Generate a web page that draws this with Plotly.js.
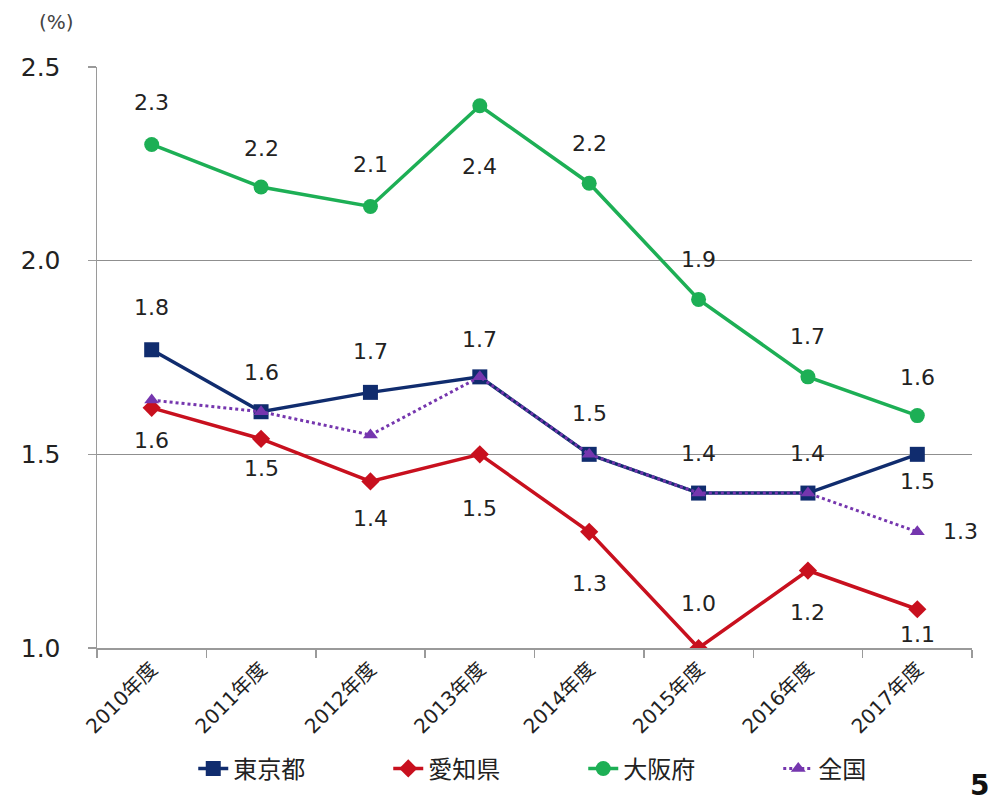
<!DOCTYPE html>
<html>
<head>
<meta charset="utf-8">
<script src="https://cdn.plot.ly/plotly-3.0.1.min.js"></script>
<style>html,body{margin:0;padding:0;background:#fff;}#chart{width:996px;height:807px;}</style>
</head>
<body>
<div id="chart"></div>
<script>
// ---- data ----
const categories = ["2010年度","2011年度","2012年度","2013年度","2014年度","2015年度","2016年度","2017年度"];
const tokyo    = [1.77, 1.61, 1.66, 1.70, 1.50, 1.40, 1.40, 1.50];
const aichi    = [1.62, 1.54, 1.43, 1.50, 1.30, 1.00, 1.20, 1.10];
const osaka    = [2.30, 2.19, 2.14, 2.40, 2.20, 1.90, 1.70, 1.60];
const national = [1.64, 1.61, 1.55, 1.70, 1.50, 1.40, 1.40, 1.30];
const seriesNames = ["東京都","愛知県","大阪府","全国"];
const yTicks = [1.0, 1.5, 2.0, 2.5];

// ---- label placement (style only: pixel shifts; null = no label) ----
const tokyoShift    = [[0,42],[0,39],[0,41],[0,37],[0,41],[0,40],[0,40],[0,-27]];
const aichiShift    = [[0,-33],[0,-30],[0,-37],[0,-54],[0,-52],[0,45],[0,-42],[0,-25]];
const osakaShift    = [[0,42],[0,39],[0,42],[0,-61],[0,40],[0,40],[0,40],[0,38]];
const nationalShift = [null,null,null,null,null,null,null,[43,0]];

const FONT = "DejaVu Sans, Noto Sans CJK JP, sans-serif";
const CJK = "Noto Sans CJK JP, DejaVu Sans, sans-serif";
const C = {tokyo:"#102C6E", aichi:"#C8101E", osaka:"#1DAF55", national:"#7536AE"};

const traces = [
  {x:categories, y:tokyo, name:seriesNames[0], type:"scatter", mode:"lines+markers",
   line:{color:C.tokyo, width:3.5}, marker:{symbol:"square", size:15, color:C.tokyo}},
  {x:categories, y:aichi, name:seriesNames[1], type:"scatter", mode:"lines+markers",
   line:{color:C.aichi, width:3.5}, marker:{symbol:"diamond", size:14, color:C.aichi}},
  {x:categories, y:osaka, name:seriesNames[2], type:"scatter", mode:"lines+markers",
   line:{color:C.osaka, width:3.5}, marker:{symbol:"circle", size:15, color:C.osaka}},
  {x:categories, y:national, name:seriesNames[3], type:"scatter", mode:"lines+markers",
   line:{color:C.national, width:3, dash:"dot"}, marker:{symbol:"triangle-up", size:13, color:C.national}}
];

const annotations = [];
function addLabels(vals, shifts){
  vals.forEach((v,i)=>{
    const s = shifts[i]; if(!s) return;
    annotations.push({x:categories[i], y:v, xref:"x", yref:"y", text:v.toFixed(1),
      showarrow:false, xshift:s[0], yshift:s[1],
      font:{family:FONT, size:22, color:"#222"}});
  });
}
addLabels(tokyo, tokyoShift);
addLabels(aichi, aichiShift);
addLabels(osaka, osakaShift);
addLabels(national, nationalShift);

annotations.push({text:"(%)", xref:"paper", yref:"paper", x:-0.046, y:1.077,
  xanchor:"center", yanchor:"middle",
  showarrow:false, font:{family:FONT, size:20, color:"#444"}});
annotations.push({text:"<b>5</b>", xref:"paper", yref:"paper", x:1.022, y:-0.236,
  xanchor:"right", yanchor:"middle", showarrow:false, font:{family:FONT, size:28, color:"#111"}});

const layout = {
  width:996, height:807,
  margin:{l:97, r:24, t:67, b:159},
  paper_bgcolor:"#fff", plot_bgcolor:"#fff",
  showlegend:true,
  legend:{orientation:"h", x:0.11, xanchor:"left", y:-0.208, yanchor:"middle",
    font:{family:CJK, size:24, color:"#222"}, entrywidth:150, entrywidthmode:"pixels",
    itemwidth:30, traceorder:"normal"},
  xaxis:{type:"category", showgrid:false, showline:true, linecolor:"#9a9a9a", linewidth:1.5,
    ticks:"outside", tickson:"boundaries", ticklen:8, tickcolor:"#9a9a9a", tickwidth:1.5,
    tickangle:-45, tickfont:{family:FONT, size:20, color:"#222"}, zeroline:false,
    range:[-0.5, 7.5]},
  yaxis:{range:[1.0, 2.5], tickvals:yTicks, ticktext:yTicks.map(v=>v.toFixed(1)),
    showgrid:true, gridcolor:"#8f8f8f", gridwidth:1.5, showline:true, linecolor:"#9a9a9a",
    linewidth:1.5, ticks:"outside", ticklen:8, tickcolor:"#9a9a9a", tickwidth:1.5,
    zeroline:false, tickfont:{family:FONT, size:25, color:"#222"}, ticklabelstandoff:22},
  annotations:annotations
};

Plotly.newPlot("chart", traces, layout, {displayModeBar:false, staticPlot:true});
</script>
</body>
</html>
